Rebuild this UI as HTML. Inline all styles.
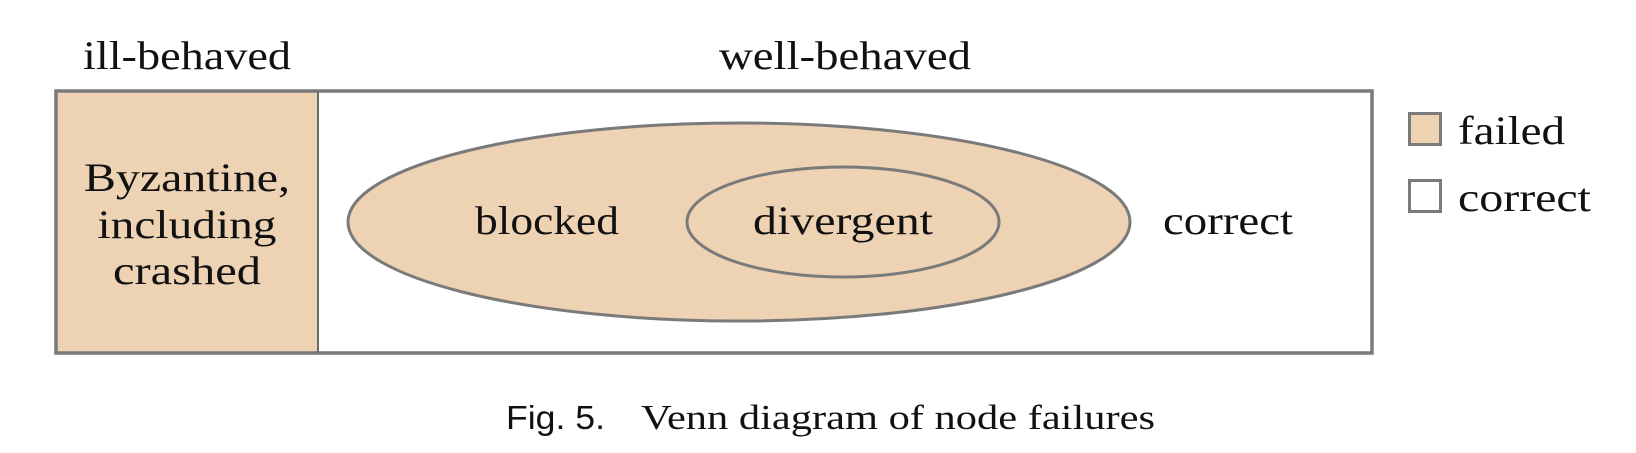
<!DOCTYPE html>
<html><head><meta charset="utf-8"><style>
html,body{margin:0;padding:0;background:#fff;width:1636px;height:453px;overflow:hidden}
svg text{font-family:"Liberation Serif",serif;fill:#111}
</style></head><body>
<svg width="1636" height="453" viewBox="0 0 1636 453">
<text x="187" y="69" font-size="40" text-anchor="middle" textLength="208" lengthAdjust="spacingAndGlyphs">ill-behaved</text>
<text x="845" y="69" font-size="40" text-anchor="middle" textLength="252" lengthAdjust="spacingAndGlyphs">well-behaved</text>
<rect x="56" y="91" width="262" height="262" fill="#EDD2B3"/>
<rect x="56" y="91" width="1316" height="262" fill="none" stroke="#7a7a7a" stroke-width="3.5"/>
<line x1="318" y1="91" x2="318" y2="353" stroke="#6a6a6a" stroke-width="2"/>
<text x="187" y="191" font-size="40" text-anchor="middle" textLength="206" lengthAdjust="spacingAndGlyphs">Byzantine,</text>
<text x="187" y="238" font-size="40" text-anchor="middle" textLength="179" lengthAdjust="spacingAndGlyphs">including</text>
<text x="187" y="284" font-size="40" text-anchor="middle" textLength="148" lengthAdjust="spacingAndGlyphs">crashed</text>
<ellipse cx="739" cy="222" rx="391" ry="99" fill="#EDD2B3" stroke="#7a7a7a" stroke-width="3"/>
<ellipse cx="843" cy="222" rx="156" ry="55" fill="#EDD2B3" stroke="#7a7a7a" stroke-width="3"/>
<text x="475" y="234" font-size="40" textLength="144" lengthAdjust="spacingAndGlyphs">blocked</text>
<text x="753" y="234" font-size="40" textLength="180" lengthAdjust="spacingAndGlyphs">divergent</text>
<text x="1163" y="234" font-size="40" textLength="130" lengthAdjust="spacingAndGlyphs">correct</text>
<rect x="1409.5" y="113.5" width="31" height="31" fill="#EDD2B3" stroke="#7a7a7a" stroke-width="3"/>
<text x="1458" y="144" font-size="40" textLength="107" lengthAdjust="spacingAndGlyphs">failed</text>
<rect x="1409.5" y="180.5" width="31" height="31" fill="#fff" stroke="#7a7a7a" stroke-width="3"/>
<text x="1458" y="211" font-size="40" textLength="133" lengthAdjust="spacingAndGlyphs">correct</text>
<text x="506" y="429" font-size="33" style="font-family:'Liberation Sans',sans-serif" textLength="99" lengthAdjust="spacingAndGlyphs">Fig. 5.</text>
<text x="641" y="429" font-size="35" textLength="514" lengthAdjust="spacingAndGlyphs">Venn diagram of node failures</text>
</svg>
</body></html>
